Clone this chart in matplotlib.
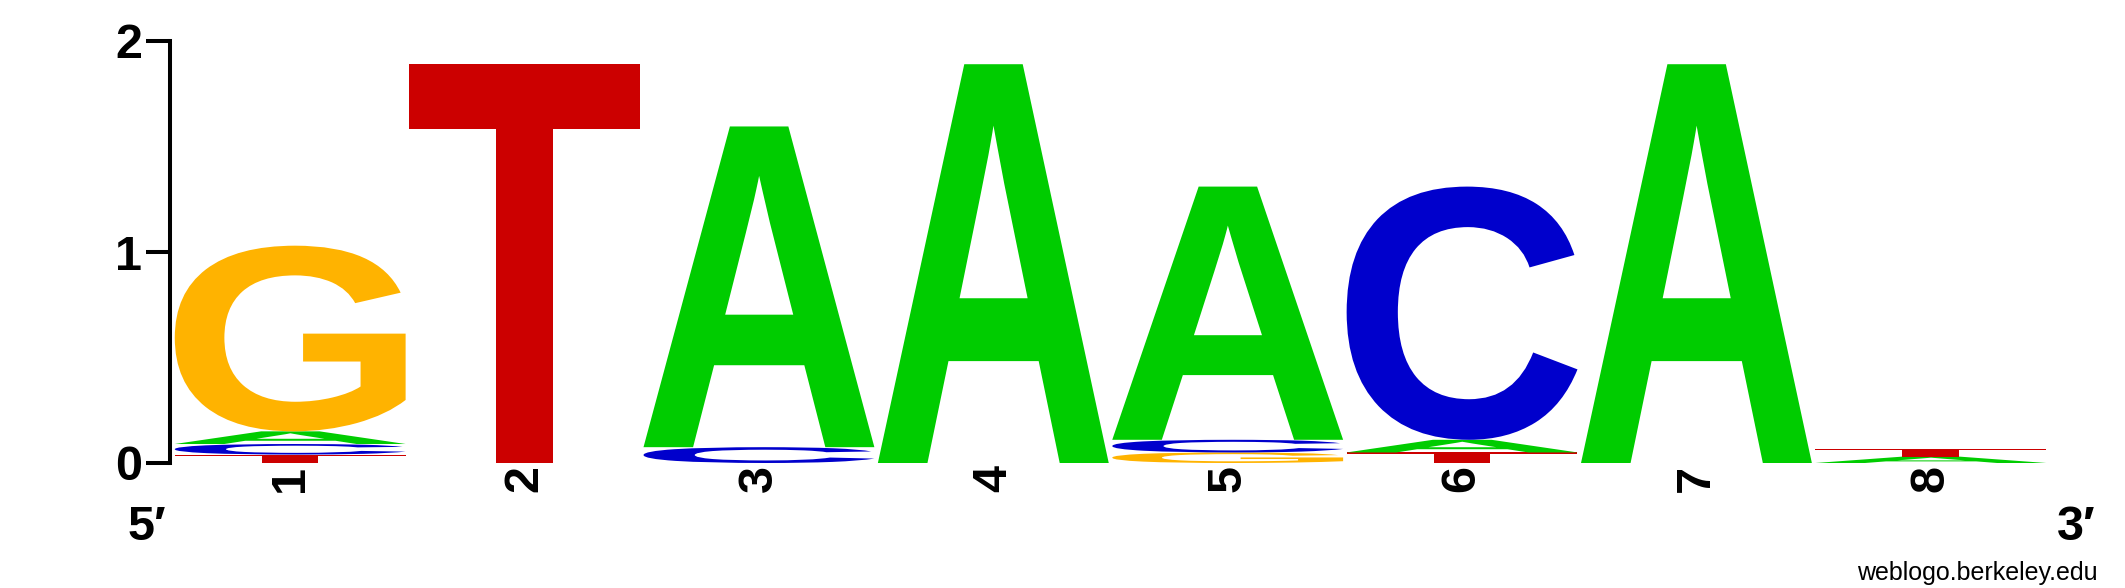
import matplotlib
matplotlib.use("Agg")
import matplotlib.pyplot as plt
from matplotlib.textpath import TextPath
from matplotlib.patches import PathPatch
from matplotlib.font_manager import FontProperties
from matplotlib.transforms import Affine2D

# information content (bits) per nucleotide at each position
positions = [1, 2, 3, 4, 5, 6, 7, 8]
bits_A = [0.06, 0.0, 1.52, 1.89, 1.20, 0.06, 1.89, 0.03]
bits_C = [0.05, 0.0, 0.075, 0.0, 0.06, 1.20, 0.0, 0.0]
bits_G = [0.88, 0.0, 0.0, 0.0, 0.05, 0.0, 0.0, 0.0]
bits_T = [0.04, 1.89, 0.0, 0.0, 0.0, 0.05, 0.0, 0.035]
yticks = [0, 1, 2]

colors = {"A": "#00cc00", "C": "#0000cc", "G": "#ffb300", "T": "#cc0000"}
letter_font = FontProperties(family="Liberation Sans", weight="bold")
bold = {"family": ["Liberation Sans", "DejaVu Sans"], "weight": "bold", "size": 35}


def draw_letter(ax, ch, xc, y0, w, h):
    tp = TextPath((0, 0), ch, size=1, prop=letter_font)
    bb = tp.get_extents()
    tr = (Affine2D().translate(-bb.x0, -bb.y0)
          .scale(w / bb.width, h / bb.height)
          .translate(xc - w / 2, y0))
    ax.add_patch(PathPatch(tr.transform_path(tp), facecolor=colors[ch],
                           edgecolor="none", lw=0))


fig = plt.figure(figsize=(21.25, 5.88), dpi=100)
ax = fig.add_axes([173 / 2125, 1 - 463 / 588, 1875 / 2125, 422 / 588])

for i, pos in enumerate(positions):
    col = {"A": bits_A[i], "C": bits_C[i], "G": bits_G[i], "T": bits_T[i]}
    y = 0.0
    for ch, h in sorted(col.items(), key=lambda kv: kv[1]):
        if h <= 0:
            continue
        draw_letter(ax, ch, pos, y, 0.985, h)
        y += h

ax.set_xlim(0.5, 8.5)
ax.set_ylim(0, 2)
for s in ["top", "right", "bottom"]:
    ax.spines[s].set_visible(False)
ax.spines["left"].set_position(("outward", 2))
ax.spines["left"].set_linewidth(2.9)
ax.spines["left"].set_bounds(0, 2)

ax.set_yticks(yticks)
ax.set_yticklabels([str(t) for t in yticks], fontdict=bold)
ax.tick_params(axis="y", direction="out", length=17, width=2.9, pad=3)

ax.set_xticks(positions)
ax.set_xticklabels([str(p) for p in positions], fontdict=bold, rotation=90)
ax.tick_params(axis="x", length=0, pad=1.5)

fig.text(147 / 2125, 1 - 540 / 588, "5\u2032", ha="center", va="baseline", **bold)
fig.text(2076 / 2125, 1 - 540 / 588, "3\u2032", ha="center", va="baseline", **bold)
fig.text(2098 / 2125, 1 - 580 / 588, "weblogo.berkeley.edu", ha="right",
         va="baseline", family="Liberation Sans", size=18)

fig.savefig("out.png", dpi=100, facecolor="white")
